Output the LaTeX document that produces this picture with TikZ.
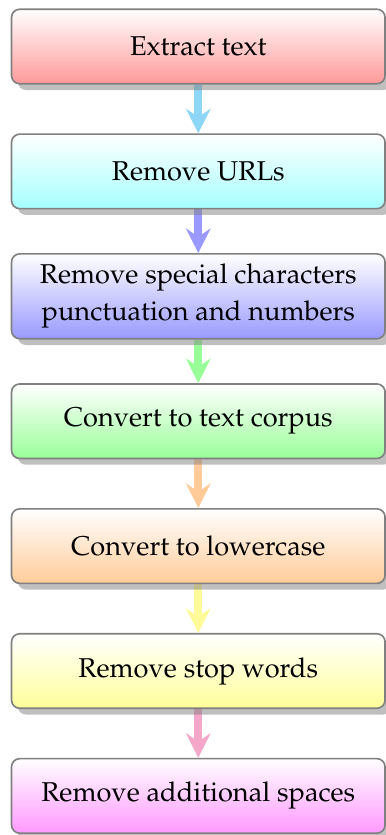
\documentclass[tikz,border=0pt]{standalone}
\usepackage[T1]{fontenc}
\usepackage{mathpazo}
\usepackage{xcolor}
\usepackage{tikz}
\usetikzlibrary{shadows,arrows.meta}

\definecolor{skyarrow}{RGB}{141,214,245}
\definecolor{pinkarrow}{RGB}{244,167,201}

\pgfdeclarelayer{background}
\pgfsetlayers{background,main}

\tikzset{
	stepbox/.style={draw=gray, semithick, rounded corners=3pt,
		minimum width=137.3pt, minimum height=27.4pt, align=center,
		font=\fontsize{10}{13.7}\selectfont,
		top color=white, bottom color=#1,
		drop shadow={shadow xshift=2.3pt, shadow yshift=-2.3pt}},
	flow/.style={line width=3pt, draw=#1, -{Stealth[length=9pt,width=9pt,inset=3pt]}}
}

\begin{document}
\begin{tikzpicture}[x=0.3676pt, y=0.3676pt]
\useasboundingbox (0,0) rectangle (386,-835);

\node[stepbox=red!40] (extract) at (198.3,-46.5) {Extract text};
\node[stepbox=cyan!35] (urls) at (198.3,-171.4) {Remove URLs};
\node[stepbox=blue!40, minimum height=31.2pt] (special) at (198.3,-296.3) {Remove special characters\\punctuation and numbers};
\node[stepbox=green!40] (corpus) at (198.3,-421.2) {Convert to text corpus};
\node[stepbox=orange!40] (lower) at (198.3,-546.1) {Convert to lowercase};
\node[stepbox=yellow!40] (stop) at (198.3,-671) {Remove stop words};
\node[stepbox=magenta!40] (spaces) at (198.3,-795.9) {Remove additional spaces};

\begin{pgfonlayer}{background}
\foreach \a/\b/\c in {extract/urls/skyarrow, urls/special/blue!40,
	special/corpus/green!40, corpus/lower/orange!40,
	lower/stop/yellow!40, stop/spaces/pinkarrow}{
	\draw[flow=\c] (\a) -- (\b);
}
\end{pgfonlayer}

\end{tikzpicture}
\end{document}
